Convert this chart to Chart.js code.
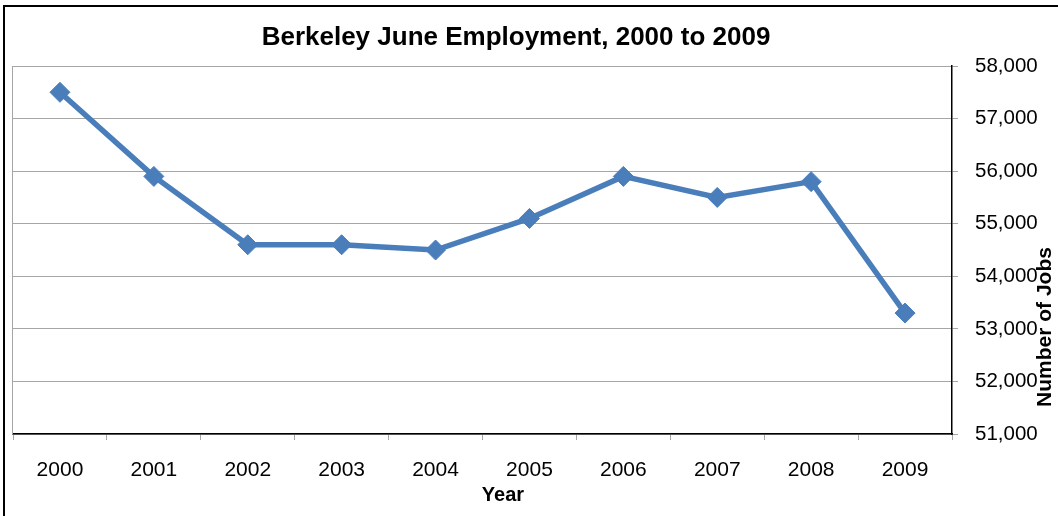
<!DOCTYPE html>
<html>
<head>
<meta charset="utf-8">
<script src="https://cdn.jsdelivr.net/npm/chart.js@4"></script>
<style>
    html, body { margin: 0; padding: 0; background: #ffffff; }
    #wrap { width: 1058px; height: 516px; }
</style>
</head>
<body>
<div id="wrap"><canvas id="jobsChart" width="1058" height="516"></canvas></div>
<script>
// Datos del gráfico
const years = ['2000', '2001', '2002', '2003', '2004', '2005', '2006', '2007', '2008', '2009'];
const jobs = [57500, 55900, 54600, 54600, 54500, 55100, 55900, 55500, 55800, 53300];
const yTicks = [51000, 52000, 53000, 54000, 55000, 56000, 57000, 58000];

const chartTitle = 'Berkeley June Employment, 2000 to 2009';
const xTitle = 'Year';
const yTitle = 'Number of Jobs';

const FONT = "'Liberation Sans', Arial, sans-serif";
const lineBlue = '#4a7ebb';
const gridGray = '#a6a6a6';

// Marco, títulos y línea izquierda del área de trazado
const decorPlugin = {
    id: 'decor',
    afterDraw(chart) {
        const ctx = chart.ctx;
        const area = chart.chartArea;
        ctx.save();

        // borde exterior (solo izquierda y arriba visibles)
        ctx.strokeStyle = '#000000';
        ctx.lineWidth = 2;
        ctx.beginPath();
        ctx.moveTo(4, chart.height);
        ctx.lineTo(4, 6);
        ctx.lineTo(chart.width, 6);
        ctx.stroke();

        // línea izquierda del área de trazado
        ctx.strokeStyle = gridGray;
        ctx.lineWidth = 1;
        ctx.beginPath();
        ctx.moveTo(area.left - 0.5, area.top);
        ctx.lineTo(area.left - 0.5, area.bottom);
        ctx.stroke();

        ctx.fillStyle = '#000000';
        ctx.textAlign = 'center';
        ctx.textBaseline = 'middle';

        ctx.font = 'bold 26px ' + FONT;
        ctx.fillText(chartTitle, 516, 38);

        ctx.font = 'bold 20px ' + FONT;
        ctx.fillText(xTitle, 503, 495);

        ctx.font = 'bold 21px ' + FONT;
        ctx.translate(1045, 327);
        ctx.rotate(-Math.PI / 2);
        ctx.fillText(yTitle, 0, 0);

        ctx.restore();
    }
};

const ctx = document.getElementById('jobsChart');
const jobsChart = new Chart(ctx, {
    type: 'line',
    data: {
        labels: years,
        datasets: [{
            data: jobs,
            borderColor: lineBlue,
            backgroundColor: lineBlue,
            borderWidth: 5.5,
            pointStyle: 'rectRot',
            pointRadius: 10,
            pointBorderWidth: 1,
            pointBackgroundColor: lineBlue,
            pointBorderColor: lineBlue,
            tension: 0,
            fill: false
        }]
    },
    options: {
        responsive: false,
        animation: false,
        layout: {
            padding: { left: 13, top: 66, right: 0, bottom: 0 }
        },
        plugins: {
            legend: { display: false },
            title: { display: false },
            tooltip: { enabled: false }
        },
        scales: {
            x: {
                offset: true,
                grid: {
                    drawOnChartArea: false,
                    offset: true,
                    tickLength: 6,
                    color: gridGray
                },
                border: { color: '#000000', width: 1.5 },
                ticks: {
                    color: '#000000',
                    padding: 18,
                    maxRotation: 0,
                    font: { size: 21, family: FONT }
                },
                afterFit: (scale) => { scale.height = 82; }
            },
            y: {
                position: 'right',
                min: yTicks[0],
                max: yTicks[yTicks.length - 1],
                afterBuildTicks: (scale) => {
                    scale.ticks = yTicks.map(v => ({ value: v }));
                },
                grid: {
                    tickLength: 6,
                    color: gridGray
                },
                border: { color: '#000000', width: 1.5 },
                ticks: {
                    color: '#000000',
                    padding: 17,
                    font: { size: 20.5, family: FONT },
                    callback: (v) => v.toLocaleString('en-US')
                },
                afterFit: (scale) => { scale.width = 106; }
            }
        }
    },
    plugins: [decorPlugin]
});
</script>
</body>
</html>
